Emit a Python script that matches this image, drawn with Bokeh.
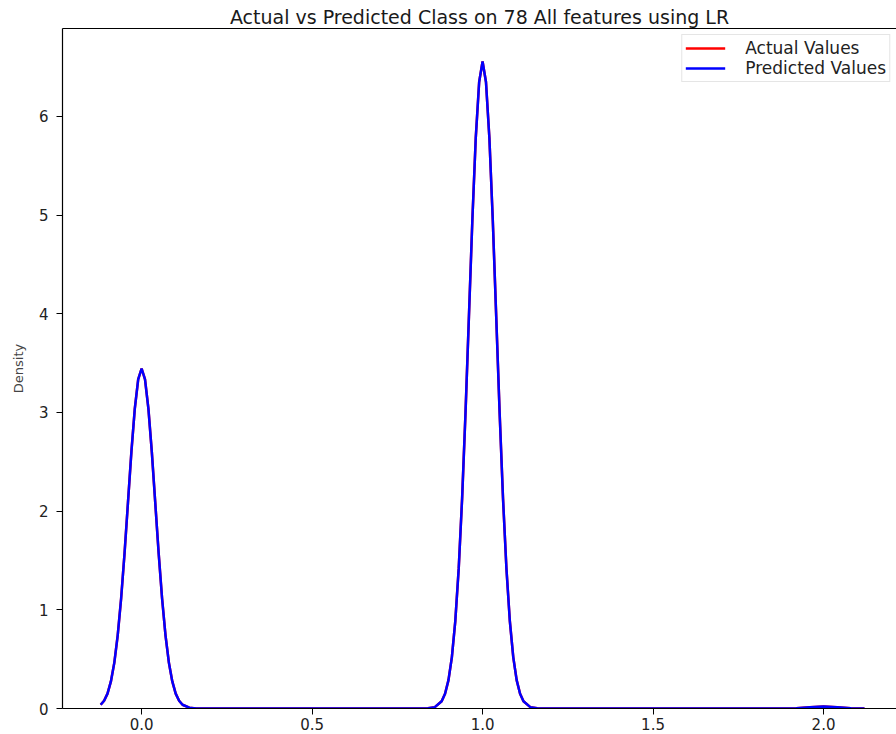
from bokeh.plotting import figure
from bokeh.models import Range1d, Legend, LegendItem, FixedTicker, LinearAxis
from bokeh.embed import file_html
from bokeh.resources import INLINE

# KDE curves (x = class value, y = density)
x_values = [-0.12, -0.11, -0.10, -0.09, -0.08, -0.07, -0.06, -0.05, -0.04, -0.03, -0.02, -0.01,
            0.00, 0.01, 0.02, 0.03, 0.04, 0.05, 0.06, 0.07, 0.08, 0.09, 0.10, 0.11, 0.12,
            0.14, 0.16, 0.20, 0.30, 0.40, 0.50, 0.60, 0.70, 0.80, 0.84, 0.86, 0.88,
            0.89, 0.90, 0.91, 0.92, 0.93, 0.94, 0.95, 0.96, 0.97, 0.98, 0.99,
            1.00, 1.01, 1.02, 1.03, 1.04, 1.05, 1.06, 1.07, 1.08, 1.09, 1.10, 1.11, 1.12,
            1.14, 1.16, 1.20, 1.30, 1.40, 1.50, 1.60, 1.70, 1.80, 1.88, 1.92, 1.96,
            2.00, 2.04, 2.08, 2.12]

actual_density = [0.038, 0.078, 0.151, 0.274, 0.465, 0.744, 1.117, 1.575, 2.086, 2.597, 3.036, 3.334,
                  3.445, 3.334, 3.036, 2.597, 2.086, 1.575, 1.117, 0.744, 0.465, 0.274, 0.151, 0.078, 0.038,
                  0.008, 0.001, 0.0, 0.0, 0.0, 0.0, 0.0, 0.0, 0.0, 0.002, 0.014, 0.073,
                  0.149, 0.288, 0.521, 0.886, 1.417, 2.127, 2.999, 3.973, 4.944, 5.780, 6.348,
                  6.555, 6.348, 5.780, 4.944, 3.973, 2.999, 2.127, 1.417, 0.886, 0.521, 0.288, 0.149, 0.073,
                  0.014, 0.002, 0.0, 0.0, 0.0, 0.0, 0.0, 0.0, 0.0, 0.0003, 0.003, 0.012,
                  0.020, 0.012, 0.003, 0.0003]

predicted_density = [0.038, 0.078, 0.151, 0.274, 0.465, 0.744, 1.117, 1.575, 2.086, 2.597, 3.036, 3.334,
                     3.445, 3.334, 3.036, 2.597, 2.086, 1.575, 1.117, 0.744, 0.465, 0.274, 0.151, 0.078, 0.038,
                     0.008, 0.001, 0.0, 0.0, 0.0, 0.0, 0.0, 0.0, 0.0, 0.002, 0.014, 0.073,
                     0.149, 0.288, 0.521, 0.886, 1.417, 2.127, 2.999, 3.973, 4.944, 5.780, 6.348,
                     6.555, 6.348, 5.780, 4.944, 3.973, 2.999, 2.127, 1.417, 0.886, 0.521, 0.288, 0.149, 0.073,
                     0.014, 0.002, 0.0, 0.0, 0.0, 0.0, 0.0, 0.0, 0.0, 0.0003, 0.003, 0.012,
                     0.020, 0.012, 0.003, 0.0003]

x_ticks = [0.0, 0.5, 1.0, 1.5, 2.0]
y_ticks = [0, 1, 2, 3, 4, 5, 6]
series_labels = ["Actual Values", "Predicted Values"]
title_text = "Actual vs Predicted Class on 78 All features using LR"

FONT = "DejaVu Sans"

p = figure(width=896, height=734, output_backend="svg", toolbar_location=None,
           x_range=Range1d(-0.232, 2.214), y_range=Range1d(0, 6.89),
           min_border_left=62, min_border_right=0, min_border_top=28, min_border_bottom=26)

p.title.text = title_text
p.title.align = "center"
p.title.text_font = FONT
p.title.text_font_size = "19px"
p.title.text_font_style = "normal"
p.title.text_color = "#1a1a1a"
p.title.standoff = 2

r_act = p.line(x_values, actual_density, line_color="#ff0000", line_width=2.5)
r_pred = p.line(x_values, predicted_density, line_color="#0000ff", line_width=2.5)

p.xgrid.visible = False
p.ygrid.visible = False
p.outline_line_color = None

bottom_axis = p.below[0]
left_axis = p.left[0]

bottom_axis.ticker = FixedTicker(ticks=x_ticks)
left_axis.ticker = FixedTicker(ticks=y_ticks)
bottom_axis.major_label_overrides = {t: f"{t:.1f}" for t in x_ticks}
for ax in (bottom_axis, left_axis):
    ax.major_tick_in = 0
    ax.major_tick_out = 6
    ax.minor_tick_in = 0
    ax.minor_tick_out = 0
    ax.axis_line_color = "black"
    ax.axis_line_width = 1.2
    ax.major_tick_line_color = "black"
    ax.major_label_text_font = FONT
    ax.major_label_text_font_size = "15px"
    ax.major_label_text_color = "#222222"
bottom_axis.major_label_standoff = 3
left_axis.major_label_standoff = 8
left_axis.axis_label = "Density"
left_axis.axis_label_text_font = FONT
left_axis.axis_label_text_font_size = "13px"
left_axis.axis_label_text_font_style = "normal"
left_axis.axis_label_standoff = 10

# top spine only (the right spine falls outside the picture in the reference)
top_axis = LinearAxis(ticker=FixedTicker(ticks=[]), major_tick_in=0, major_tick_out=0,
                      minor_tick_in=0, minor_tick_out=0,
                      axis_line_color="black", axis_line_width=1.2)
p.add_layout(top_axis, "above")

legend = Legend(items=[LegendItem(label=series_labels[0], renderers=[r_act]),
                       LegendItem(label=series_labels[1], renderers=[r_pred])],
                location="top_right")
legend.margin = 6
legend.padding = 3
legend.spacing = 0
legend.label_height = 18
legend.glyph_height = 18
legend.glyph_width = 40
legend.label_standoff = 20
legend.label_text_font = FONT
legend.label_text_font_size = "17px"
legend.label_text_color = "#222222"
legend.border_line_color = "#cccccc"
legend.border_line_width = 1
legend.background_fill_alpha = 0.9
p.add_layout(legend, "center")

open("out.html", "w").write(file_html(p, INLINE))
